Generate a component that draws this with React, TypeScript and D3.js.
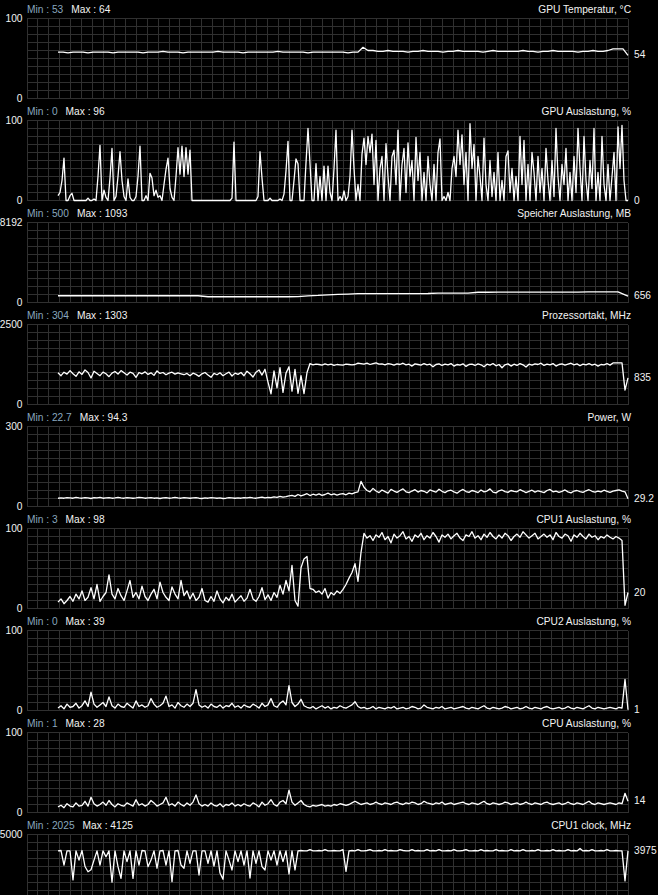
import React from 'react';
import * as d3 from 'd3';

// ---- series values (one sample per column of the history strip) ----
const gpuTemp = [
  58, 58, 57, 58, 58, 58, 57, 58, 58, 58,
  58, 57, 58, 58, 58, 58, 58, 57, 58, 58,
  58, 59, 58, 58, 58, 57, 58, 58, 58, 58,
  58, 58, 59, 58, 58, 58, 58, 57, 58, 58,
  58, 58, 58, 58, 59, 58, 58, 58, 58, 58,
  57, 58, 58, 58, 58, 58, 58, 58, 57, 58,
  58, 64, 60, 60, 59, 59, 60, 59, 59, 59,
  58, 59, 59, 60, 59, 59, 59, 58, 59, 59,
  60, 59, 59, 59, 59, 58, 59, 60, 59, 59,
  59, 59, 59, 60, 59, 59, 58, 59, 59, 60,
  59, 59, 59, 59, 58, 59, 59, 60, 59, 59,
  60, 62, 62, 62, 54,
];

const gpuLoad = [
  6, 10, 25, 53, 0, 0, 6, 9, 0, 0,
  0, 0, 0, 0, 0, 3, 0, 0, 2, 0,
  30, 69, 0, 13, 4, 0, 28, 65, 0, 5,
  30, 61, 25, 5, 0, 27, 4, 0, 0, 5,
  30, 68, 0, 0, 6, 0, 34, 28, 6, 13,
  4, 6, 0, 20, 39, 53, 15, 4, 0, 30,
  66, 33, 68, 30, 66, 33, 63, 0, 0, 0,
  0, 0, 0, 0, 0, 0, 0, 0, 0, 0,
  0, 0, 0, 0, 0, 0, 0, 3, 73, 0,
  0, 0, 0, 0, 0, 0, 0, 0, 0, 0,
  5, 61, 28, 0, 0, 0, 3, 0, 0, 0,
  0, 2, 0, 8, 37, 74, 0, 0, 25, 52,
  46, 0, 0, 0, 47, 90, 46, 0, 0, 46,
  0, 30, 0, 43, 0, 43, 10, 0, 40, 88,
  0, 5, 0, 12, 0, 5, 30, 88, 40, 0,
  20, 0, 58, 78, 45, 80, 60, 83, 20, 75,
  0, 40, 55, 0, 71, 30, 0, 55, 63, 20,
  88, 0, 45, 65, 10, 72, 30, 50, 0, 79,
  25, 60, 0, 35, 0, 55, 20, 0, 45, 0,
  60, 77, 0, 5, 0, 10, 0, 40, 55, 30,
  88, 45, 82, 20, 60, 0, 96, 40, 70, 0,
  55, 30, 0, 78, 20, 0, 50, 5, 35, 0,
  60, 0, 25, 0, 55, 62, 10, 40, 0, 30,
  0, 80, 20, 75, 0, 45, 0, 60, 35, 0,
  55, 10, 40, 0, 65, 25, 0, 50, 5, 90,
  30, 0, 45, 20, 65, 0, 35, 0, 55, 10,
  90, 40, 0, 80, 25, 0, 50, 15, 90, 0,
  35, 0, 80, 20, 0, 45, 0, 30, 60, 0,
  92, 40, 94, 25, 0, 0,
];

const vramUsage = [
  690, 690, 690, 690, 690, 690, 690, 690, 690, 690,
  690, 690, 690, 690, 690, 590, 590, 590, 590, 590,
  590, 590, 590, 590, 600, 680, 720, 790, 840, 860,
  900, 910, 910, 910, 910, 910, 910, 920, 960, 960,
  960, 960, 1050, 1050, 1060, 1060, 1060, 1060, 1060, 1070,
  1070, 1070, 1070, 1080, 1080, 1080, 1093, 656,
];

const coreClock = [
  990, 900, 1010, 950, 1060, 960, 880, 1020, 940, 1080,
  1000, 830, 1040, 970, 900, 1010, 960, 870, 980, 1030,
  950, 1060, 990, 920, 1010, 970, 850, 1000, 960, 1020,
  940, 990, 910, 1050, 970, 1000, 930, 980, 1010, 950,
  990, 960, 930, 970, 900, 980, 940, 880, 960, 1000,
  920, 850, 970, 930, 990, 900, 960, 1010, 890, 980,
  940, 1000, 900, 1040, 960, 860, 1010, 1080, 920, 1100,
  700, 330, 1050, 520, 1150, 380, 980, 1180, 420, 1100,
  350, 900, 340, 1000,
  1280, 1240, 1260, 1250, 1230, 1270, 1240, 1260, 1220, 1250,
  1240, 1230, 1260, 1250, 1240, 1250,
  1290, 1280, 1260, 1290, 1250, 1280, 1300, 1260, 1270, 1240,
  1280, 1260, 1230, 1270, 1250, 1290, 1240, 1260, 1200, 1270,
  1250, 1230, 1280, 1240, 1260, 1180, 1250, 1270, 1220, 1260,
  1240, 1280, 1200, 1250, 1230, 1270, 1190, 1250, 1260, 1220,
  1270, 1240, 1180, 1260, 1230, 1280, 1210, 1250, 1150, 1240,
  1270, 1200, 1260, 1220, 1280, 1240, 1170, 1260, 1230, 1270,
  1250, 1290, 1220, 1260, 1240, 1280, 1200, 1250, 1270, 1230,
  1260, 1290, 1240, 1270, 1210, 1260, 1240, 1280, 1230, 1260,
  1200, 1250, 1240, 1280, 1230, 1300, 1303, 1303, 1303,
  450, 835,
];

const boardPower = [
  31, 32, 31, 33, 32, 31, 34, 32, 31, 33,
  32, 30, 33, 32, 34, 31, 32, 33, 31, 32,
  34, 32, 31, 33, 32, 31, 32, 34, 33, 31,
  32, 33, 31, 32, 30, 32, 33, 31, 32, 34,
  32, 31, 33, 32, 31, 32, 33, 31, 30, 32,
  31, 33, 32, 31, 32, 30, 31, 33, 32, 31,
  32, 31, 33, 32, 34, 32, 31, 33, 35, 32,
  34, 33, 36, 34, 38, 35, 37, 40,
  42, 38, 45, 40, 44, 48, 41, 46, 43, 47,
  42, 45, 50, 44, 47, 43, 46, 48, 44, 50,
  47, 52, 55,
  94.3, 72,
  60, 55, 68, 58, 52, 62, 56, 50, 64, 58,
  53, 60, 66, 55, 52, 58, 63, 54, 60, 57,
  51, 62, 58, 54, 65, 57, 52, 59, 61, 55,
  50, 58, 64, 56, 53, 60, 57, 52, 62, 55,
  58, 66, 54, 51, 59, 62, 56, 53, 60, 57,
  55, 63, 58, 52, 57, 61, 54, 59, 56, 52,
  60, 64, 55, 58, 53, 57, 62, 55, 51, 58,
  60, 56, 53, 59, 63, 57, 54, 58, 55, 61,
  57, 53, 58, 60, 62, 58, 55,
  29.2,
];

const cpu1Load = [
  8, 12, 6, 10, 15, 9, 18, 12, 22, 10,
  14, 26, 12, 30, 9, 15, 20, 42, 18, 12,
  25, 16, 10, 22, 35, 14, 20, 12, 28, 15,
  10, 18, 24, 12, 33, 20, 14, 10, 27, 18,
  12, 35, 16, 22, 12, 19, 10,
  14, 25, 10, 8, 15, 9, 22, 12, 7, 14,
  10, 18, 8, 12, 16, 9, 13, 24, 12, 9,
  15, 26, 11, 17, 10, 20, 14, 29, 18, 35, 22,
  54, 10, 3, 51, 62, 65, 25,
  24, 20, 22, 18, 25, 13, 20, 17, 22, 19, 24,
  30, 38, 45, 56, 34,
  70,
  94, 88, 91, 85, 92, 89, 95, 86, 90, 82,
  93, 88, 91, 96, 87, 90, 84, 92, 89, 94,
  86, 91, 88, 95, 90, 83, 92, 89, 93, 87,
  91, 94, 88, 85, 92, 90, 96, 88, 91, 86,
  93, 89, 95, 90, 87, 92, 88, 94, 91, 85,
  90, 93, 89, 96, 92, 88, 91, 94, 87, 90,
  93, 89, 92, 86, 95, 90, 88, 93, 91, 84,
  92, 89, 94, 90, 87, 93, 89, 91, 86, 90,
  88, 92, 89, 87, 90, 88,
  85, 4, 20,
];

const cpu2Load = [
  3, 6, 2, 8, 4, 5, 9, 3, 6, 12,
  5, 23, 8, 4, 7, 10, 5, 17, 6, 3,
  8, 5, 4, 9, 6, 3, 12, 5, 7, 4,
  6, 15, 8, 4, 6, 9, 18, 5, 7, 3,
  10, 6, 4, 8, 5, 9, 26, 7, 4, 6,
  3, 8, 5, 4, 7, 3, 6, 5, 9, 4,
  6, 3, 7, 5, 4, 8, 6, 3, 9, 5,
  7, 15, 6, 4, 9, 12, 7, 31, 10, 5,
  8, 14, 6, 4, 3, 5, 2, 4, 6, 3,
  5, 2, 4, 3, 6, 4, 3, 5, 7, 11,
  5, 3, 4, 2, 3, 5, 2, 4, 3, 2,
  4, 3, 5, 2, 3, 4, 2, 3, 5, 4,
  2, 3, 7, 4, 3, 2, 4, 3, 5, 2,
  3, 4, 2, 3, 4, 5, 3, 2, 4, 3,
  2, 4, 6, 3, 2, 4, 3, 2, 3, 5,
  4, 2, 3, 4, 2, 3, 5, 3, 2, 4,
  3, 2, 4, 5, 3, 2, 3, 4, 2, 3,
  5, 3, 2, 4, 3, 2, 4, 6, 3, 2,
  4, 3, 2, 3, 4, 3, 2, 4, 3,
  39, 1,
];

const cpuLoad = [
  7, 9, 6, 11, 8, 7, 12, 8, 9, 14,
  8, 19, 11, 8, 10, 13, 9, 15, 10, 7,
  11, 9, 8, 12, 10, 8, 16, 9, 11, 8,
  10, 15, 12, 8, 10, 12, 19, 9, 11, 8,
  13, 10, 8, 12, 9, 13, 22, 11, 8, 10,
  8, 12, 9, 8, 11, 7, 10, 9, 12, 8,
  10, 8, 11, 9, 8, 12, 10, 7, 13, 9,
  11, 16, 10, 8, 13, 15, 11, 28, 13, 9,
  12, 15, 10, 8, 7, 9, 8, 9, 10, 8,
  9, 8, 10, 9, 11, 10, 9, 10, 12, 14,
  12, 10, 11, 12, 10, 11, 13, 11, 10, 12,
  11, 10, 12, 13, 11, 10, 12, 11, 13, 12,
  10, 11, 14, 12, 11, 10, 12, 11, 13, 10,
  11, 12, 10, 11, 12, 13, 11, 10, 12, 11,
  10, 12, 14, 11, 10, 12, 11, 10, 11, 13,
  12, 10, 11, 12, 10, 11, 13, 11, 10, 12,
  11, 10, 12, 13, 11, 10, 11, 12, 10, 11,
  13, 11, 10, 12, 11, 10, 12, 14, 11, 10,
  12, 11, 10, 11, 12, 11, 10, 12, 11,
  24, 14,
];

const cpu1Clock = [
  3975, 4000, 3090, 3975, 3975, 2160, 3975, 3400, 4000, 3000,
  2670, 2800, 3400, 3975, 3090, 3975, 3610, 3975, 2025, 3975,
  2990, 2260, 3975, 3300, 3975, 2260, 3975, 3090, 4000, 3975,
  2990, 3400, 3975, 2890, 3975, 4000, 3090, 3975, 2050, 3975,
  4000, 3090, 2890, 3975, 3200, 3975, 3975, 2470, 3975, 3975,
  3200, 3975, 3030, 3975, 2590, 2200, 3975, 3400, 2780, 3975,
  3300, 3975, 3090, 3975, 2280, 3975, 3200, 3975, 2990, 2780,
  3975, 3400, 3975, 3090, 3975, 3300, 3975, 2530, 3975, 2780,
  3975,
  4000, 3975, 3975, 4050, 3975, 3975, 4000, 3975, 4050, 3975,
  3975, 4000, 3975, 3975, 4050,
  2700,
  3975, 4000, 3975, 4050, 3975, 3975, 4000, 4050, 3975, 3975,
  4000, 3975, 4050, 3975, 4000, 3975, 3975, 4050, 4000, 3975,
  3975, 4050, 3975, 4000, 3975, 3975, 4050, 3975, 4000, 3975,
  4050, 3975, 3975, 4000, 3975, 4050, 3975, 3975, 4000, 4050,
  3975, 3975, 4000, 3975, 4050, 3975, 4000, 3975, 3975, 4050,
  3975, 4000, 3975, 3975, 4050, 3975, 4000, 3975, 4050, 3975,
  3975, 4000, 3975, 4050, 3975, 3975, 4000, 3975, 4050, 3975,
  4000, 3975, 3975, 4050, 3975, 4000, 3975, 4125, 3975, 4000,
  3975, 4050, 3975, 3975, 4000, 3975, 4050, 3975, 3975, 4000,
  3975, 3975,
  2100, 3975,
];

// ---- per-graph labels ----
const graphTitles = [
  'GPU Temperatur, °C',
  'GPU Auslastung, %',
  'Speicher Auslastung, MB',
  'Prozessortakt, MHz',
  'Power, W',
  'CPU1 Auslastung, %',
  'CPU2 Auslastung, %',
  'CPU Auslastung, %',
  'CPU1 clock, MHz',
];
const scaleMax = [100, 100, 8192, 2500, 300, 100, 100, 100, 5000];
const minLabels = ['53', '0', '500', '304', '22.7', '3', '0', '1', '2025'];
const maxLabels = ['64', '96', '1093', '1303', '94.3', '98', '39', '28', '4125'];
const seriesList = [gpuTemp, gpuLoad, vramUsage, coreClock, boardPower, cpu1Load, cpu2Load, cpuLoad, cpu1Clock];

// ---- layout ----
const WIDTH = 658;
const HEIGHT = 895;
const FIRST_TOP = 18.5;
const STEP = 102;
const PLOT_H = 80;
const GRID_LEFT = 26.5;
const GRID_RIGHT = 627.5;
const GRID_COLS = 55;
const GRID_ROWS = 10;
const TRACE_LEFT = 58;
const TRACE_RIGHT = 628;

const MIN_COLOR = '#88a7bf';
const TEXT_COLOR = '#f2f2f2';
const GRID_COLOR = '#303030';

function Graph({ index }: { index: number }) {
  const values = seriesList[index];
  const top = FIRST_TOP + index * STEP;
  const bottom = top + PLOT_H;
  const y = d3.scaleLinear().domain([0, scaleMax[index]]).range([bottom, top]);
  const x = d3.scaleLinear().domain([0, values.length - 1]).range([TRACE_LEFT, TRACE_RIGHT]);
  const gx = d3.scaleLinear().domain([0, GRID_COLS]).range([GRID_LEFT, GRID_RIGHT]);
  const gy = d3.scaleLinear().domain([0, GRID_ROWS]).range([top, bottom]);

  const line = d3
    .line<number>()
    .x((_, i) => x(i))
    .y((v) => y(v));

  const gridPath =
    d3.range(GRID_COLS + 1).map((c) => `M${Math.round(gx(c)) + 0.5},${top}V${bottom}`).join('') +
    d3.range(GRID_ROWS + 1).map((r) => `M${GRID_LEFT},${gy(r)}H${GRID_RIGHT}`).join('');

  const last = values[values.length - 1];
  // the zero label of a strip that runs past the window edge is not drawn
  const showZero = bottom + 4 < HEIGHT;

  return (
    <g>
      <path d={gridPath} stroke={GRID_COLOR} strokeWidth={1} fill="none" shapeRendering="crispEdges" />
      <text x={27} y={top - 6} fill={MIN_COLOR}>
        {`Min : ${minLabels[index]}`}
        <tspan dx={8} fill={TEXT_COLOR}>{`Max : ${maxLabels[index]}`}</tspan>
      </text>
      <text x={631} y={top - 6} fill={TEXT_COLOR} textAnchor="end">
        {graphTitles[index]}
      </text>
      <text x={22.5} y={top + 3.5} fill={TEXT_COLOR} textAnchor="end">
        {String(scaleMax[index])}
      </text>
      {showZero && (
        <text x={22.5} y={bottom + 3.5} fill={TEXT_COLOR} textAnchor="end">
          0
        </text>
      )}
      <path d={line(values) ?? ''} stroke="#ffffff" strokeWidth={1.3} fill="none" strokeLinejoin="round" />
      <text x={634} y={y(last) + 3} fill={TEXT_COLOR}>
        {String(last)}
      </text>
    </g>
  );
}

export default function App() {
  return (
    <svg
      width={WIDTH}
      height={HEIGHT}
      style={{ position: 'absolute', left: 0, top: 0, display: 'block', background: '#000' }}
      fontFamily="'Liberation Sans', Arial, sans-serif"
      fontSize={10.2}
    >
      <rect width={WIDTH} height={HEIGHT} fill="#000" />
      {seriesList.map((_, i) => (
        <Graph key={graphTitles[i]} index={i} />
      ))}
    </svg>
  );
}
